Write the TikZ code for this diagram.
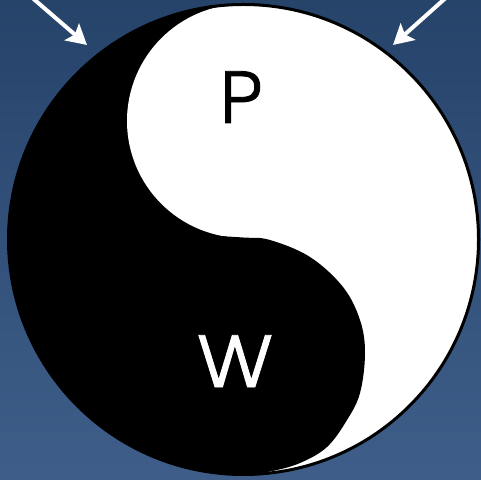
\documentclass[tikz,border=0pt]{standalone}
\usepackage{fontspec}
\newfontfamily\pfont[FakeBold=1.2]{texgyreadventor-regular.otf}
\usetikzlibrary{arrows.meta}
\definecolor{bgtop}{HTML}{26436A}
\definecolor{bgbot}{HTML}{3E5E89}
\tikzset{
  letter/.style={font=\pfont\fontsize{70}{80}\selectfont, inner sep=0pt, anchor=base},
  whitearrow/.style={draw=white, line width=4pt, -{Stealth[length=20pt,width=22pt,inset=4pt]}},
}
\begin{document}
\begin{tikzpicture}[x=1pt,y=1pt]
\useasboundingbox (0,0) rectangle (481,479);
\clip (0,0) rectangle (481,479);
\shade[top color=bgtop, bottom color=bgbot] (0,0) rectangle (481,479);
% outer disc
\fill[white] (243.5,239.5) circle[radius=235];
% left half black
\fill[black] (243.5,474.5) arc[start angle=90,end angle=270,radius=235] -- cycle;
% upper white lobe
\fill[white] (244,358) circle[radius=117];
% lower black lobe
\fill[black] plot[smooth, tension=0.6] coordinates {(200,244) (243,241.5) (270,239) (310,222) (343,192) (360,159) (365,126) (360,86) (347,59) (327,32) (300,16) (270,7.5) (243,4.5)} -- (220,120) -- cycle;
% outline
\draw[black, line width=3pt] (243.5,239.5) circle[radius=235];
% letters
\node[letter, text=black] (P) at (241,356) {P};
\node[letter, text=white, xscale=1.1, transform shape] (W) at (235,92) {W};
% arrows
\coordinate (a1s) at (29,484);
\coordinate (a1e) at (87,434);
\coordinate (a2s) at (449,484);
\coordinate (a2e) at (393,434);
\draw[whitearrow] (a1s) -- (a1e);
\draw[whitearrow] (a2s) -- (a2e);
\end{tikzpicture}
\end{document}
